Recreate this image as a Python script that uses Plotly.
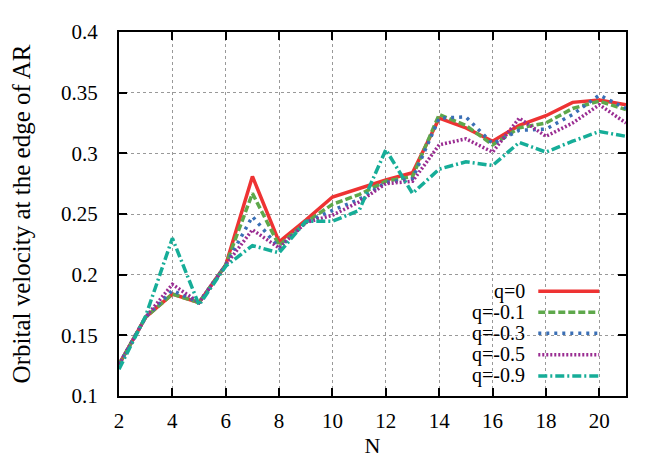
import plotly.graph_objects as go

# data
N = list(range(2, 22))
q_names = ["q=0", "q=-0.1", "q=-0.3", "q=-0.5", "q=-0.9"]
v_q0 = [0.126, 0.165, 0.184, 0.177, 0.208, 0.281, 0.227, 0.245, 0.264, 0.271,
        0.278, 0.284, 0.329, 0.321, 0.310, 0.323, 0.331, 0.342, 0.344, 0.340]
v_q01 = [0.126, 0.165, 0.184, 0.177, 0.208, 0.267, 0.224, 0.243, 0.258, 0.266,
         0.277, 0.281, 0.332, 0.323, 0.307, 0.321, 0.325, 0.337, 0.343, 0.336]
v_q03 = [0.126, 0.165, 0.187, 0.177, 0.208, 0.248, 0.222, 0.243, 0.253, 0.262,
         0.276, 0.279, 0.329, 0.330, 0.308, 0.319, 0.320, 0.332, 0.348, 0.337]
v_q05 = [0.126, 0.165, 0.192, 0.177, 0.208, 0.237, 0.222, 0.243, 0.249, 0.260,
         0.275, 0.277, 0.307, 0.312, 0.301, 0.329, 0.314, 0.325, 0.340, 0.325]
v_q09 = [0.122, 0.166, 0.230, 0.175, 0.207, 0.224, 0.218, 0.244, 0.244, 0.253,
         0.303, 0.267, 0.287, 0.293, 0.290, 0.309, 0.301, 0.310, 0.318, 0.314]
y_ticks = [0.1, 0.15, 0.2, 0.25, 0.3, 0.35, 0.4]
y_labels = ["0.1", "0.15", "0.2", "0.25", "0.3", "0.35", "0.4"]

series = [v_q0, v_q01, v_q03, v_q05, v_q09]
colors = ["#ee3333", "#5ea84b", "#3a6fb5", "#9a2d92", "#16ad98"]
dashes = ["solid", "7px,3px", "3px,5px", "2px,2px", "9px,3px,2px,3px"]
widths = [3.5, 3.5, 3.5, 3.5, 3.5]

FONT = "Times New Roman, Liberation Serif, DejaVu Serif"

fig = go.Figure()
for name, vals, c, d, w in zip(q_names, series, colors, dashes, widths):
    fig.add_trace(go.Scatter(x=N, y=vals, mode="lines", name=name,
                             line=dict(color=c, dash=d, width=w),
                             showlegend=False))

# gnuplot-like legend: label text on the left, line sample on the right
leg_y = [0.288, 0.230, 0.1725, 0.113, 0.055]
for name, c, d, w, yy in zip(q_names, colors, dashes, widths, leg_y):
    fig.add_annotation(x=0.805, y=yy, xref="paper", yref="paper", text=name,
                       showarrow=False, xanchor="right", yanchor="middle",
                       font=dict(family=FONT, size=20, color="black"))
    fig.add_shape(type="line", xref="paper", yref="paper",
                  x0=0.827, x1=0.947, y0=yy, y1=yy,
                  line=dict(color=c, dash=d, width=w))

axis_common = dict(
    showline=True, linecolor="black", linewidth=2, mirror="allticks",
    ticks="inside", ticklen=8, tickwidth=1.5, tickcolor="black",
    showgrid=True, gridcolor="#999999", griddash="dot", gridwidth=1,
    zeroline=False,
    tickfont=dict(family=FONT, size=21, color="black"),
)

fig.update_xaxes(range=[2, 21], tickmode="array", tickvals=list(range(2, 21, 2)),
                 ticklabelstandoff=5,
                 title=dict(text="N", font=dict(family=FONT, size=22, color="black"),
                            standoff=5),
                 **axis_common)
fig.update_yaxes(range=[0.1, 0.4], tickmode="array", tickvals=y_ticks,
                 ticktext=y_labels, ticklabelstandoff=15,
                 title=dict(text="Orbital velocity at the edge of AR",
                            font=dict(family=FONT, size=25, color="black"),
                            standoff=24),
                 **axis_common)

# page body adds ~8px offset, so margins are shifted to compensate
fig.update_layout(width=664, height=465,
                  margin=dict(l=110, r=46, t=17, b=77),
                  plot_bgcolor="white", paper_bgcolor="white",
                  font=dict(family=FONT))

fig.write_html("out.html")
